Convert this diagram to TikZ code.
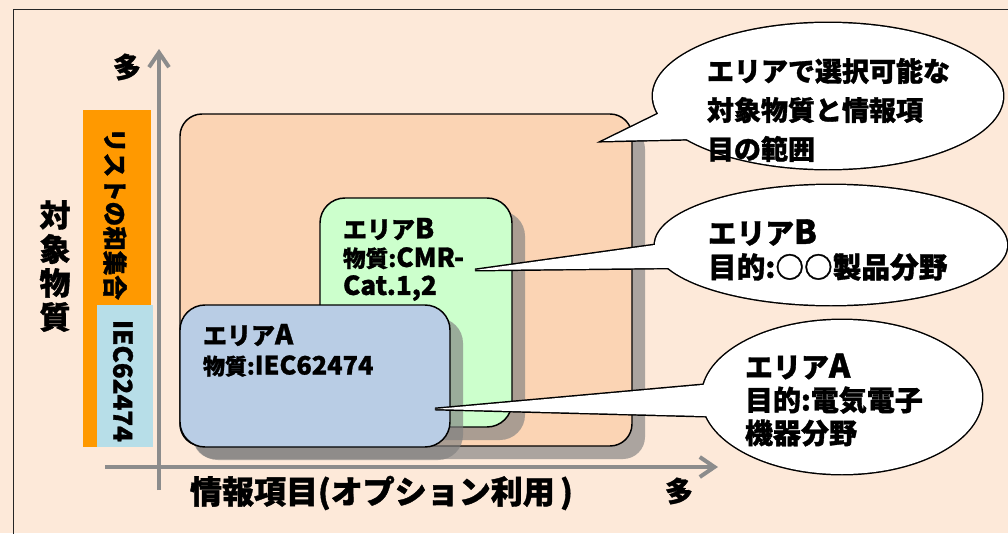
\documentclass[tikz,border=0pt]{standalone}
\usepackage{fontspec}
\setmainfont{Noto Sans CJK JP}[BoldFeatures={FakeBold=1.2}]
\newfontfamily\latn{Noto Sans CJK JP}[Scale=1.15,BoldFeatures={FakeBold=1.2}]
\usetikzlibrary{shapes.geometric,arrows.meta,shadows}
\definecolor{bgc}{HTML}{FDE9D9}
\definecolor{framec}{HTML}{262626}
\definecolor{axisc}{HTML}{8C8C8C}
\definecolor{orangec}{HTML}{FF9900}
\definecolor{lbluec}{HTML}{B7DEE8}
\definecolor{bigc}{HTML}{FBD4B4}
\definecolor{greenc}{HTML}{CCFFCC}
\definecolor{bluec}{HTML}{B9CDE5}
\newcommand\fsz[2]{\fontsize{#1}{#2}\selectfont}
\begin{document}
\begin{tikzpicture}[x=0.75pt,y=-0.75pt,
  every node/.style={inner sep=0pt,outer sep=0pt},
  axisline/.style={draw=axisc,line width=3pt,-{Straight Barb[length=11pt,width=15pt]}},
  areabox/.style={rectangle,draw=black,line width=1.1pt,rounded corners=#1,
    drop shadow={shadow xshift=9.75pt,shadow yshift=-9.75pt,opacity=0.65,fill=black!50}},
  callout/.style={ellipse,draw=black,fill=white,line width=2.2pt},
  calloutfill/.style={ellipse,fill=white},
  jp/.style={font=\bfseries\fsz{#1}{#1},text=black},
  jpblock/.style 2 args={font=\bfseries\fsz{#1}{#2},text=black,align=left,anchor=west}
]
\useasboundingbox (0,0) rectangle (1008,533);
\fill[bgc] (0,0) rectangle (1008,533);
\begin{scope}
\clip (0,0) rectangle (1008,533);
\draw[framec,line width=1.2pt] (13.5,9.5) rectangle (1030,560);
\end{scope}

% axes
\coordinate (ytop) at (159,49);
\coordinate (ybot) at (159,490);
\coordinate (xleft) at (105,467);
\coordinate (xright) at (718,467);
\draw[axisline] (ybot) -- (ytop);
\draw[axisline] (xleft) -- (xright);
\node[jp=21pt] (ymany) at (127,67) {多};
\node[jp=21pt] (xmany) at (679,491) {多};
\node[jpblock={24pt}{24pt}] (xlabel) at (190,493) {情報項目(オプション利用\,)};
\node[font=\bfseries\fsz{23.25pt}{25.5pt},align=center] (ylabel) at (55,266) {対\\象\\物\\質};

% list bars
\node[fill=orangec,minimum width=51pt,minimum height=252.75pt] (lst) at (117,278.5) {};
\node[fill=lbluec,minimum width=42pt,minimum height=106.5pt] (iec) at (125,376) {};
\node[jp=18.4pt,rotate=-90] (lsttxt) at (115,214) {リストの和集合};
\node[jp=19.5pt,rotate=-90] (iectxt) at (123,381) {IEC62474};

% area boxes
\node[areabox=16.5pt,fill=bigc,minimum width=339pt,minimum height=249pt] (big) at (406,280) {};
\node[areabox=18.75pt,fill=greenc,minimum width=144pt,minimum height=171.75pt] (boxB) at (416,312.5) {};
\node[areabox=18.75pt,fill=bluec,minimum width=202.5pt,minimum height=106.5pt] (boxA) at (315,376) {};

\node[jpblock={18pt}{18pt}] (bBt) at (343,229) {エリア{\latn B}};
\node[jpblock={17pt}{21pt}] (bBb) at (343,274) {物質:{\latn CMR-}\\{\latn Cat.1,2}};
\node[jpblock={18pt}{18pt}] (bAt) at (203,335) {エリア{\latn A}};
\node[jpblock={16.5pt}{16.5pt}] (bAb) at (203,366) {物質:{\latn IEC62474}};

% callouts
\coordinate (t1) at (603,141);
\coordinate (t2) at (475,270);
\coordinate (t3) at (435,409);
\node[callout,minimum width=262.5pt,minimum height=109.5pt] (e1) at (828,96) {};
\node[callout,minimum width=264pt,minimum height=90pt] (e2) at (831,245) {};
\node[callout,minimum width=210pt,minimum height=115.5pt] (e3) at (842,397) {};
\draw[line width=2.2pt,line join=miter] (t1) -- (e1.186) -- (e1.197) -- cycle;
\draw[line width=2.2pt,line join=miter] (t2) -- (e2.180) -- (e2.188) -- cycle;
\draw[line width=2.2pt,line join=miter] (t3) -- (e3.175) -- (e3.188) -- cycle;
\node[calloutfill,minimum width=262.5pt,minimum height=109.5pt] (e1f) at (e1) {};
\node[calloutfill,minimum width=264pt,minimum height=90pt] (e2f) at (e2) {};
\node[calloutfill,minimum width=210pt,minimum height=115.5pt] (e3f) at (e3) {};
\fill[white] (t1) -- (e1.186) -- (e1.197) -- cycle;
\fill[white] (t2) -- (e2.180) -- (e2.188) -- cycle;
\fill[white] (t3) -- (e3.175) -- (e3.188) -- cycle;

\node[jpblock={20.25pt}{29.25pt}] (e1t) at (707,110) {エリアで選択可能な\\対象物質と情報項\\目の範囲};
\node[jpblock={21.5pt}{25.5pt}] (e2t) at (708,250) {エリア{\latn B}\\目的:○○製品分野};
\node[jpblock={21pt}{24.75pt}] (e3t) at (745,400) {エリア{\latn A}\\目的:電気電子\\機器分野};
\end{tikzpicture}
\end{document}
